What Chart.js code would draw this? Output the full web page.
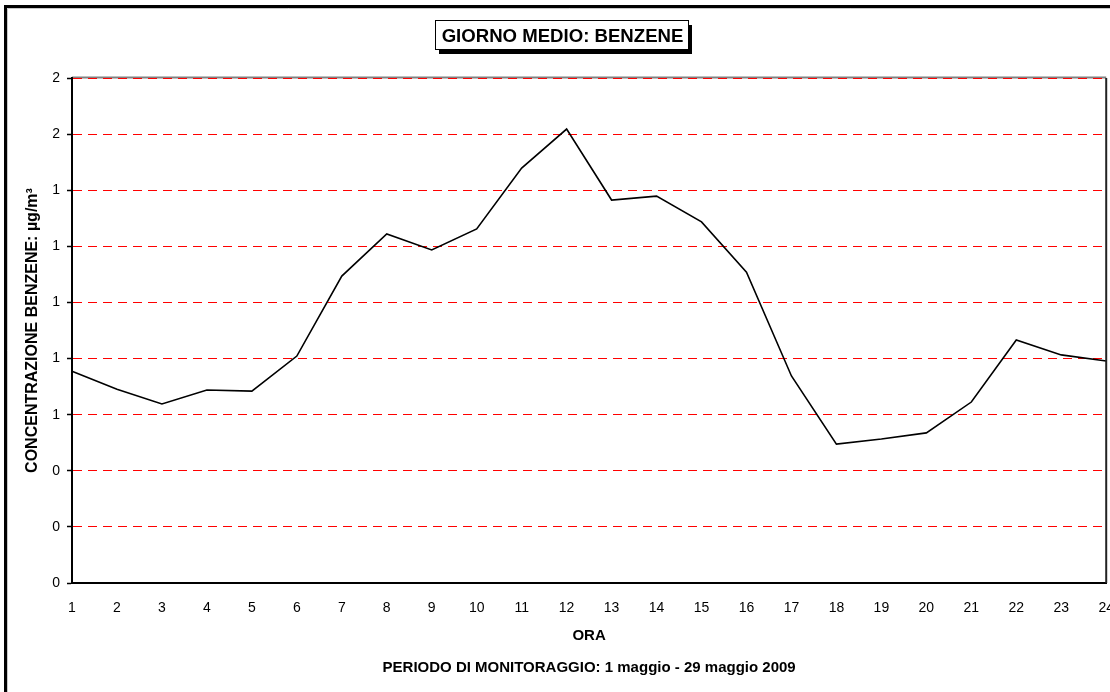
<!DOCTYPE html>
<html>
<head>
<meta charset="utf-8">
<script src="https://cdn.jsdelivr.net/npm/chart.js@4"></script>
<style>
  html, body { margin: 0; padding: 0; background: #fff; overflow: hidden; }
  #wrap { width: 1110px; height: 692px; overflow: hidden; }
</style>
</head>
<body>
<div id="wrap"><canvas id="c" width="1131" height="692"></canvas></div>
<script>
const ore = ['1','2','3','4','5','6','7','8','9','10','11','12','13','14','15','16','17','18','19','20','21','22','23','24'];
const benzene = [0.755, 0.691, 0.638, 0.688, 0.684, 0.809, 1.094, 1.244, 1.187, 1.262, 1.479, 1.618,
                 1.365, 1.379, 1.287, 1.108, 0.738, 0.495, 0.513, 0.535, 0.645, 0.866, 0.813, 0.791];
const yMin = 0, yMax = 1.8, yStep = 0.2;
const titolo = 'GIORNO MEDIO: BENZENE';
const sottotitolo = 'PERIODO DI MONITORAGGIO: 1 maggio - 29 maggio 2009';

const FONT = "'Liberation Sans', Arial, Helvetica, sans-serif";

// frame, title box and footer text
const decor = {
  id: 'decor',
  beforeDraw(chart) {
    const { ctx, chartArea: a } = chart;
    ctx.save();
    // plot border (top, grey) under the grid
    ctx.strokeStyle = '#808080';
    ctx.lineWidth = 2;
    ctx.beginPath();
    ctx.moveTo(a.left, a.top - 0.5);
    ctx.lineTo(a.right, a.top - 0.5);
    ctx.stroke();
    ctx.restore();
  },
  afterDraw(chart) {
    const { ctx, chartArea: a } = chart;
    ctx.save();
    // right side of plot
    ctx.strokeStyle = '#222';
    ctx.lineWidth = 2;
    ctx.beginPath();
    ctx.moveTo(a.right, a.top);
    ctx.lineTo(a.right, a.bottom);
    ctx.stroke();

    // outer frame (cut on right and bottom)
    ctx.strokeStyle = '#c8c8c8';
    ctx.lineWidth = 1;
    ctx.beginPath();
    ctx.moveTo(7.5, 692);
    ctx.lineTo(7.5, 8.5);
    ctx.lineTo(1131, 8.5);
    ctx.stroke();
    ctx.strokeStyle = '#000';
    ctx.lineWidth = 3;
    ctx.beginPath();
    ctx.moveTo(5.5, 692);
    ctx.lineTo(5.5, 6.5);
    ctx.lineTo(1131, 6.5);
    ctx.stroke();

    // title box with shadow
    const bx = 435, by = 20, bw = 253, bh = 29;
    ctx.fillStyle = '#000';
    ctx.fillRect(bx + 4, by + 5, bw, bh);
    ctx.fillStyle = '#fff';
    ctx.fillRect(bx, by, bw, bh);
    ctx.strokeStyle = '#000';
    ctx.lineWidth = 1;
    ctx.strokeRect(bx + 0.5, by + 0.5, bw, bh);
    ctx.fillStyle = '#000';
    ctx.font = 'bold 18.6px ' + FONT;
    ctx.textAlign = 'center';
    ctx.textBaseline = 'middle';
    ctx.fillText(titolo, bx + bw / 2 + 1, by + bh / 2 + 2);

    // footer
    ctx.font = 'bold 15px ' + FONT;
    ctx.fillText(sottotitolo, (a.left + a.right) / 2, 668);
    ctx.restore();
  }
};

new Chart(document.getElementById('c'), {
  type: 'line',
  data: {
    labels: ore,
    datasets: [{
      data: benzene,
      borderColor: '#000',
      borderWidth: 1.6,
      pointRadius: 0,
      tension: 0,
      fill: false
    }]
  },
  options: {
    responsive: false,
    animation: false,
    layout: { padding: { top: 78, left: 0, right: 0, bottom: 0 } },
    plugins: {
      legend: { display: false },
      tooltip: { enabled: false }
    },
    scales: {
      x: {
        type: 'category',
        offset: false,
        grid: { display: false, drawTicks: false },
        border: { display: true, color: '#000', width: 2 },
        ticks: {
          color: '#000',
          font: { family: FONT, size: 14 },
          padding: 17,
          maxRotation: 0,
          autoSkip: false
        },
        title: {
          display: true,
          text: 'ORA',
          color: '#000',
          font: { family: FONT, size: 15, weight: 'bold' },
          padding: { top: 0, bottom: 47 }
        },
        afterFit(s) { s.height = 109; }
      },
      y: {
        min: yMin,
        max: yMax,
        grid: {
          color: '#ff0000',
          lineWidth: 1,
          drawTicks: true,
          tickLength: 5,
          tickColor: '#000',
          tickWidth: 1.5
        },
        border: { display: true, color: '#000', width: 2, dash: [9, 6] },
        ticks: {
          stepSize: yStep,
          color: '#000',
          font: { family: FONT, size: 14 },
          padding: 7,
          callback: v => String(Math.round(v))
        },
        title: {
          display: true,
          text: 'CONCENTRAZIONE BENZENE: µg/m³',
          color: '#000',
          font: { family: FONT, size: 16, weight: 'bold' },
          padding: { top: 23, bottom: 0 }
        },
        afterFit(s) { s.width = 72; }
      }
    }
  },
  plugins: [decor]
});
</script>
</body>
</html>
